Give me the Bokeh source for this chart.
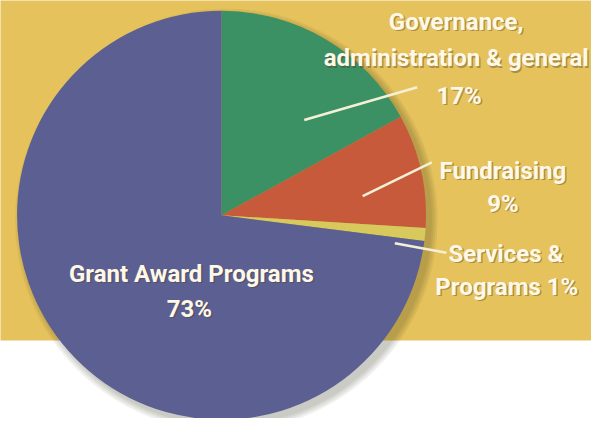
import numpy as np
from bokeh.plotting import figure
from bokeh.models import Range1d, ColumnDataSource
from bokeh.core.properties import value
from bokeh.embed import file_html
from bokeh.resources import INLINE

# ---- data ----
categories = ["Governance, administration & general", "Fundraising",
              "Services & Programs", "Grant Award Programs"]
shares = [17, 9, 1, 73]
label_lines = [["Governance,", "administration & general", "17%"],
               ["Fundraising", "9%"],
               ["Services &", "Programs 1%"],
               ["Grant Award Programs", "73%"]]
colors = ["#3B9163", "#C65A3B", "#D8C95C", "#5C5F92"]

# ---- layout (reference pixel coords; y measured from top) ----
REF_W, REF_H = 607, 434
def fy(y):
    return REF_H - y

W, H = 591, 418
cx, cy, R = 227, fy(223), 210
line_pos = [[(468, 22), (468, 60), (471, 99)],
            [(516, 177), (516, 211)],
            [(519, 263), (520, 297)],
            [(196, 284), (194, 320)]]
leaders = [((312, 124), (428, 90)), ((372, 203), (443, 168)), ((405, 252), (458, 262)), None]

p = figure(width=W, height=H, output_backend="svg", toolbar_location=None,
           x_range=Range1d(0, REF_W), y_range=Range1d(0, REF_H),
           min_border=0)
p.axis.visible = False
p.grid.visible = False
p.outline_line_color = None
p.background_fill_color = "white"
p.border_fill_color = "white"

# gold band
p.quad(left=-5, right=REF_W + 5, bottom=fy(353), top=REF_H + 10,
       fill_color="#E6C25C", line_color=None)

# soft shadow under pie
for r in [217, 215, 213, 211]:
    p.circle(x=cx + 5, y=cy - 5, radius=r,
             fill_color="#3a3420", fill_alpha=0.07, line_color=None)

# wedges (clockwise from 12 o'clock)
vals = np.array(shares, dtype=float)
cum = np.concatenate([[0], np.cumsum(vals)]) / vals.sum()
start = np.pi / 2 - cum[:-1] * 2 * np.pi
end = np.pi / 2 - cum[1:] * 2 * np.pi
src = ColumnDataSource(dict(cat=categories, start=start, end=end, color=colors))
p.wedge(x=cx, y=cy, radius=R, start_angle="start", end_angle="end",
        direction="clock", fill_color="color", line_color=None, source=src)

# leader lines
for ld in leaders:
    if ld is None:
        continue
    (x0, y0), (x1, y1) = ld
    p.line([x0, x1], [fy(y0), fy(y1)], line_color="#F4F0D6", line_width=2.5)

# labels
tx, ty, tt = [], [], []
for lines, pos in zip(label_lines, line_pos):
    for s, (x, y) in zip(lines, pos):
        tx.append(x); ty.append(fy(y)); tt.append(s)
font = value("Roboto")
p.text(x=[x + 1.5 for x in tx], y=[y - 1.5 for y in ty], text=tt, text_font=font,
       text_font_size="24px", text_font_style="bold", text_align="center",
       text_baseline="middle", text_color="#4a3c18", text_alpha=0.4)
p.text(x=tx, y=ty, text=tt, text_font=font, text_font_size="24px",
       text_font_style="bold", text_align="center", text_baseline="middle",
       text_color="#FFF8E8")

open("out.html", "w").write(file_html(p, INLINE))
